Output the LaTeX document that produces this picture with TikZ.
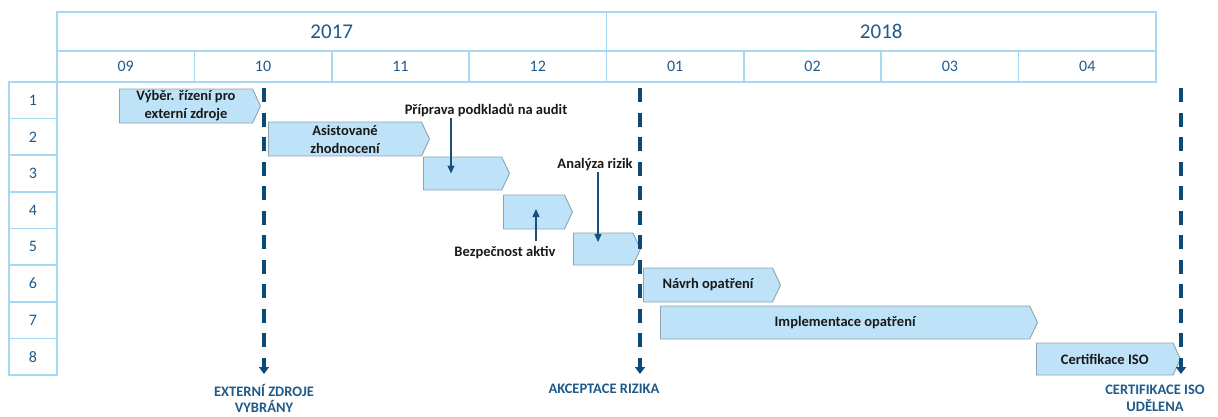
\documentclass[tikz,border=0pt]{standalone}
\usepackage{fontspec}
\setmainfont{Carlito}
\usepackage{xcolor}
\usetikzlibrary{arrows.meta, positioning, shapes.symbols}

\definecolor{gridblue}{HTML}{A5D8F3}
\definecolor{headblue}{HTML}{1F5A8A}
\definecolor{milenavy}{HTML}{0E4A78}
\definecolor{arrownavy}{HTML}{1B4F7C}
\definecolor{barfill}{HTML}{BEE3F8}
\definecolor{barline}{HTML}{8FA3B0}

\begin{document}
\begin{tikzpicture}[x=1pt, y=-1pt, >={Triangle[width=7pt,length=8pt]}, node distance=0pt,
  cell/.style={draw=gridblue, line width=1.6pt, inner sep=0pt, outer sep=0pt, text=headblue},
  yearcell/.style={cell, minimum width=549.5pt, minimum height=39pt, font=\fontsize{21}{24}\selectfont},
  monthcell/.style={cell, minimum width=137.375pt, minimum height=31pt, font=\fontsize{16}{18}\selectfont},
  rowcell/.style={cell, minimum width=48pt, minimum height=36.625pt, font=\fontsize{16}{18}\selectfont},
  task/.style={shape=signal, signal to=east, signal from=nowhere, signal pointer angle=130,
    draw=barline, fill=barfill, line width=0.9pt, inner sep=0pt, anchor=west, align=center,
    text=black!90, font=\bfseries\fontsize{14.5}{18}\selectfont},
  note/.style={inner sep=1pt, text=black!90, font=\bfseries\fontsize{14.5}{17.5}\selectfont},
  pointer/.style={->, draw=arrownavy, line width=1.4pt},
  milestone/.style={inner sep=0pt, align=center, text=headblue, font=\bfseries\fontsize{14.5}{16.5}\selectfont},
  mileline/.style={-{Triangle[width=10pt,length=7pt]}, draw=milenavy, line width=3.3pt, dash pattern=on 14pt off 10.5pt}]
  \useasboundingbox (0,0) rectangle (1218,416);

  % header
  \node[yearcell, anchor=north west] (y2017) at (57,12) {2017};
  \node[yearcell, right=of y2017] (y2018) {2018};
  \node[monthcell, anchor=north west] (m09) at (y2017.south west) {09};
  \node[monthcell, right=of m09] (m10) {10};
  \node[monthcell, right=of m10] (m11) {11};
  \node[monthcell, right=of m11] (m12) {12};
  \node[monthcell, right=of m12] (m01) {01};
  \node[monthcell, right=of m01] (m02) {02};
  \node[monthcell, right=of m02] (m03) {03};
  \node[monthcell, right=of m03] (m04) {04};

  % row numbers
  \node[rowcell, anchor=north east] (r1) at (m09.south west) {1};
  \node[rowcell, below=of r1] (r2) {2};
  \node[rowcell, below=of r2] (r3) {3};
  \node[rowcell, below=of r3] (r4) {4};
  \node[rowcell, below=of r4] (r5) {5};
  \node[rowcell, below=of r5] (r6) {6};
  \node[rowcell, below=of r6] (r7) {7};
  \node[rowcell, below=of r7] (r8) {8};

  % tasks
  \node[task, minimum width=141pt, minimum height=34pt] (b1) at (119,106) {Výběr. řízení pro\\externí zdroje};
  \node[task, minimum width=161pt, minimum height=34pt] (b2) at (268,139) {Asistované\\zhodnocení};
  \node[task, minimum width=86pt, minimum height=33pt] (b3) at (423,173.5) {};
  \node[task, minimum width=69pt, minimum height=34pt] (b4) at (503,212) {};
  \node[task, minimum width=67pt, minimum height=32pt] (b5) at (573,249) {};
  \node[task, minimum width=137pt, minimum height=34pt] (b6) at (643,285) {Návrh opatření};
  \node[task, minimum width=377pt, minimum height=33pt] (b7) at (660,322.5) {Implementace opatření};
  \node[task, minimum width=144pt, minimum height=32pt] (b8) at (1036,359) {Certifikace ISO};

  % notes
  \node[note] (prip) at (486,110) {Příprava podkladů na audit};
  \node[note] (anal) at (595,165) {Analýza rizik};
  \node[note] (bezp) at (505,253) {Bezpečnost aktiv};
  \coordinate (a3) at ([xshift=28pt]b3.west);
  \coordinate (a4) at ([xshift=33pt, yshift=3pt]b4.west);
  \coordinate (a5) at ([xshift=25pt, yshift=7pt]b5.west);
  \draw[pointer] (prip.south -| a3) -- (a3);
  \draw[pointer] ([yshift=5pt]bezp.north -| a4) -- (a4);
  \draw[pointer] (anal.south -| a5) -- (a5);

  % milestones
  \node[milestone] (ms1) at (264,398.5) {EXTERNÍ ZDROJE\\VYBRÁNY};
  \node[milestone] (ms2) at (604,389) {AKCEPTACE RIZIKA};
  \node[milestone] (ms3) at (1155,398.5) {CERTIFIKACE ISO\\UDĚLENA};
  \coordinate (ms1top) at (264,88);
  \coordinate (ms1bot) at (264,374);
  \coordinate (ms2top) at (640,88);
  \coordinate (ms2bot) at (640,374);
  \coordinate (ms3top) at (1181,88);
  \coordinate (ms3bot) at (1181,374);
  \draw[mileline] (ms1top) -- (ms1bot);
  \draw[mileline] (ms2top) -- (ms2bot);
  \draw[mileline] (ms3top) -- (ms3bot);
\end{tikzpicture}
\end{document}
